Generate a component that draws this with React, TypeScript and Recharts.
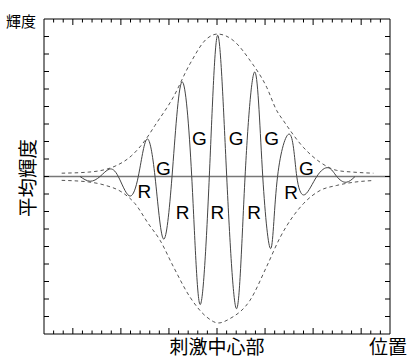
import { ComposedChart, Line, XAxis, YAxis, ReferenceLine, ReferenceDot } from "recharts";

// ── Data (x in minor-tick units 0..36, y in tick units -9..9) ────────────────

const CURVE_X = [3.75, 4.79, 5.83, 6.8, 7.73, 8.85, 9.81, 10.69, 11.55, 12.41, 13.32, 14.33, 15.37, 16.23, 17.2, 18.07, 19.01, 20.05, 20.92, 21.96, 22.76, 23.62, 24.3, 25.6, 26.3, 27.16, 28.38, 29.58, 30.46, 31.43, 32.36];
const CURVE_Y = [0, -0.27, 0, 0.42, 0, -1.1, 0, 2.13, 0, -3.56, 0, 5.39, 0, -7.31, 0, 8.07, 0, -7.55, 0, 5.96, 0, -4.1, 0, 2.4, 0, -1.03, 0, 0.5, 0, -0.33, 0];

const UPPER_X = [1.84, 4.61, 7.39, 9.13, 10.51, 11.55, 13.45, 15.19, 16.93, 18.07, 19.7, 21.44, 23.17, 24.21, 24.9, 26.98, 28.72, 30.46, 32.19, 34.27];
const UPPER_Y = [0.19, 0.25, 0.59, 1.2, 2.06, 2.92, 4.53, 6.44, 7.87, 8.14, 7.77, 6.63, 5.1, 3.77, 3.2, 1.67, 0.82, 0.35, 0.25, 0.19];

const LOWER_X = [1.84, 4.61, 6.35, 8.09, 9.47, 10.85, 12.07, 13.45, 15.19, 16.93, 18.14, 19.35, 21.44, 23.17, 24.56, 26.98, 28.72, 30.46, 32.19, 34.27];
const LOWER_Y = [-0.22, -0.31, -0.5, -0.89, -1.55, -2.69, -3.64, -5.14, -6.89, -8.03, -8.37, -8.12, -7.07, -5.14, -3.49, -1.56, -0.8, -0.51, -0.33, -0.23];

const G_X = [12.41, 16.16, 19.98, 23.69, 27.29];
const G_Y = [0.45, 2.17, 2.17, 2.17, 0.45];
const R_X = [10.43, 14.41, 18.05, 21.87, 25.72];
const R_Y = [-0.85, -2.04, -2.04, -2.04, -0.9];

const X_TICKS = [1, 2, 3, 4, 5, 6, 7, 8, 9, 10, 11, 12, 13, 14, 15, 16, 17, 18, 19, 20, 21, 22, 23, 24, 25, 26, 27, 28, 29, 30, 31, 32, 33, 34, 35];
const X_MAJOR = [3, 8, 13, 18, 23, 28, 33];
const Y_TICKS = [-8, -7, -6, -5, -4, -3, -2, -1, 0, 1, 2, 3, 4, 5, 6, 7, 8];

const zip = (xs: number[], ys: number[]) => xs.map((x, i) => ({ x, y: ys[i] }));

const curve = zip(CURVE_X, CURVE_Y);
const upper = zip(UPPER_X, UPPER_Y);
const lower = zip(LOWER_X, LOWER_Y);

// plot box edges (px) – used only to anchor the inward tick marks
const TOP = 19, BOTTOM = 334, LEFT = 44, RIGHT = 390;

// ── Inward tick marks ─────────────────────────────────────────────────────────

function xTick(p: any, edge: number, dir: number) {
  const len = X_MAJOR.includes(p.payload.value) ? 6 : 3.5;
  return <line x1={p.x} x2={p.x} y1={edge} y2={edge + dir * len} stroke="#000" strokeWidth={1} />;
}

function yTick(p: any, edge: number, dir: number) {
  return <line x1={edge} x2={edge + dir * 5} y1={p.y} y2={p.y} stroke="#000" strokeWidth={1} />;
}

const LETTER_FONT = "'Liberation Sans', Arial, sans-serif";
const CJK_FONT = "'Noto Sans CJK JP', sans-serif";

function letter(ch: string) {
  return (p: any) => (
    <text x={p.cx} y={p.cy} textAnchor="middle" dominantBaseline="central" fontSize={19} fontFamily={LETTER_FONT} fill="#000">
      {ch}
    </text>
  );
}

const title = (left: number, top: number, size: number, rotate = 0): React.CSSProperties => ({
  position: "absolute",
  left,
  top,
  transform: `translate(-50%, -50%) rotate(${rotate}deg)`,
  fontSize: size,
  lineHeight: 1,
  whiteSpace: "nowrap",
  fontFamily: CJK_FONT,
  color: "#000",
});

export default function App() {
  return (
    <div style={{ position: "absolute", left: 0, top: 0, width: 408, height: 359 }}>
      <ComposedChart width={408} height={359} margin={{ top: 18, right: 17, bottom: 24, left: 43 }}>
        <XAxis xAxisId="b" type="number" dataKey="x" domain={[0, 36]} ticks={X_TICKS} interval={0} allowDataOverflow
          height={1} tickSize={0} tickMargin={0} tickLine={false} axisLine={{ stroke: "#000" }} tick={(p: any) => xTick(p, BOTTOM, -1)} />
        <XAxis xAxisId="t" orientation="top" type="number" dataKey="x" domain={[0, 36]} ticks={X_TICKS} interval={0} allowDataOverflow
          height={1} tickSize={0} tickMargin={0} tickLine={false} axisLine={{ stroke: "#000" }} tick={(p: any) => xTick(p, TOP, 1)} />
        <YAxis yAxisId="l" type="number" dataKey="y" domain={[-9, 9]} ticks={Y_TICKS} interval={0} allowDataOverflow
          width={1} tickSize={0} tickMargin={0} tickLine={false} axisLine={{ stroke: "#000" }} tick={(p: any) => yTick(p, LEFT, 1)} />
        <YAxis yAxisId="r" orientation="right" type="number" dataKey="y" domain={[-9, 9]} ticks={Y_TICKS} interval={0} allowDataOverflow
          width={1} tickSize={0} tickMargin={0} tickLine={false} axisLine={{ stroke: "#000" }} tick={(p: any) => yTick(p, RIGHT, -1)} />

        <ReferenceLine xAxisId="b" yAxisId="l" y={0} stroke="#777" strokeWidth={1.6} />

        <Line xAxisId="b" yAxisId="l" data={upper} dataKey="y" type="monotone" stroke="#555" strokeWidth={1}
          strokeDasharray="3.5 3" dot={false} activeDot={false} isAnimationActive={false} />
        <Line xAxisId="b" yAxisId="l" data={lower} dataKey="y" type="monotone" stroke="#555" strokeWidth={1}
          strokeDasharray="3.5 3" dot={false} activeDot={false} isAnimationActive={false} />
        <Line xAxisId="b" yAxisId="l" data={curve} dataKey="y" type="natural" stroke="#444" strokeWidth={1}
          dot={false} activeDot={false} isAnimationActive={false} />

        {G_X.map((x, i) => (
          <ReferenceDot key={"g" + i} xAxisId="b" yAxisId="l" x={x} y={G_Y[i]} r={0} shape={letter("G")} />
        ))}
        {R_X.map((x, i) => (
          <ReferenceDot key={"r" + i} xAxisId="b" yAxisId="l" x={x} y={R_Y[i]} r={0} shape={letter("R")} />
        ))}
      </ComposedChart>

      <span style={title(21, 20, 15)}>輝度</span>
      <span style={title(27, 178, 19.5, -90)}>平均輝度</span>
      <span style={title(217, 345, 19)}>刺激中心部</span>
      <span style={title(388, 345, 19)}>位置</span>
    </div>
  );
}
